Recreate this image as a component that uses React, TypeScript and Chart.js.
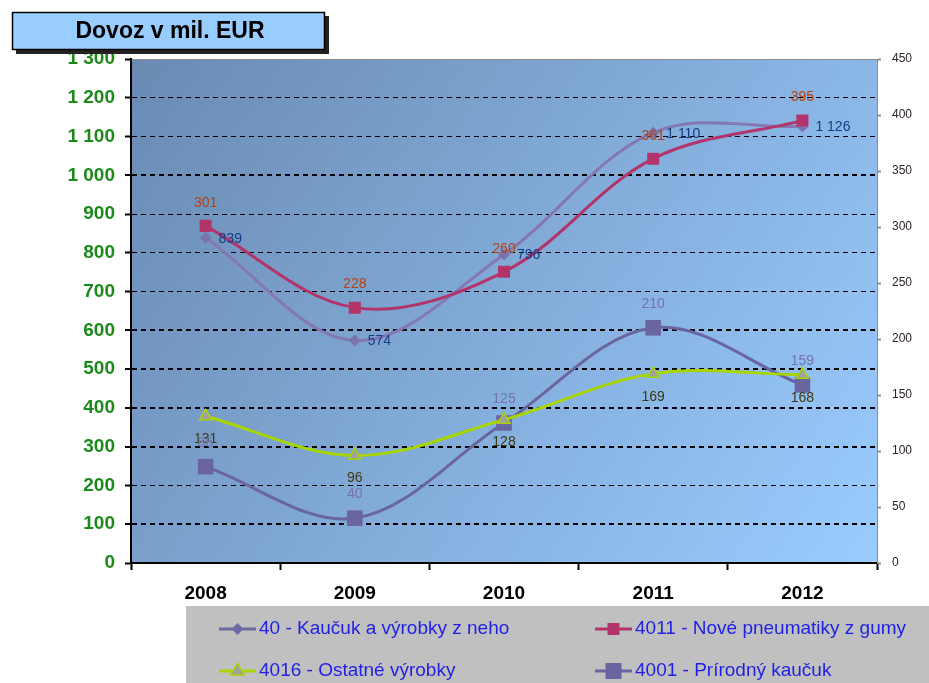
import React, { useEffect, useRef } from 'react';
import { Chart, registerables } from 'chart.js';

Chart.register(...registerables);

const years = ['2008', '2009', '2010', '2011', '2012'];
const s40 = [839, 574, 796, 1110, 1126];
const s4011 = [301, 228, 260, 361, 395];
const s4016 = [131, 96, 128, 169, 168];
const s4001 = [86, 40, 125, 210, 159];
const seriesNames = [
  '40 - Kaučuk a výrobky z neho',
  '4011 - Nové pneumatiky z gumy',
  '4016 - Ostatné výrobky',
  '4001 - Prírodný kaučuk',
];
const titleText = 'Dovoz v mil. EUR';
const leftMin = 0;
const leftMax = 1300;
const leftStep = 100;
const rightMin = 0;
const rightMax = 450;
const rightStep = 50;

const FONT = '"Liberation Sans", Arial, sans-serif';
const fmt = (v: number) => String(v).replace(/\B(?=(\d{3})+(?!\d))/g, ' ');

const thickGrid = [1000, 600, 500, 400, 300, 100];

const labelStyles = [
  { color: '#123d82', align: 'left', dx: 13, dy: 1 },
  { color: '#b5420f', align: 'center', dx: 0, dy: -23 },
  { color: '#3c3a12', align: 'center', dx: 0, dy: 23 },
  { color: '#7472ad', align: 'center', dx: 0, dy: -24 },
];

const C40 = '#8578b2';
const C40P = '#7a74ac';
const C4011 = '#b3346a';
const C4016 = '#a8d400';
const C4001 = '#6a64a0';

function drawMarker(ctx: CanvasRenderingContext2D, kind: string, x: number, y: number) {
  ctx.save();
  if (kind === 'diamond') {
    ctx.fillStyle = '#6c6aa2';
    ctx.beginPath();
    ctx.moveTo(x, y - 6);
    ctx.lineTo(x + 6, y);
    ctx.lineTo(x, y + 6);
    ctx.lineTo(x - 6, y);
    ctx.closePath();
    ctx.fill();
  } else if (kind === 'sq1') {
    ctx.fillStyle = C4011;
    ctx.fillRect(x - 6, y - 6, 12, 12);
  } else if (kind === 'tri') {
    ctx.fillStyle = '#a0a0a0';
    ctx.strokeStyle = C4016;
    ctx.lineWidth = 1.5;
    ctx.beginPath();
    ctx.moveTo(x, y - 8);
    ctx.lineTo(x + 6.5, y + 4);
    ctx.lineTo(x - 6.5, y + 4);
    ctx.closePath();
    ctx.fill();
    ctx.stroke();
  } else {
    ctx.fillStyle = C4001;
    ctx.fillRect(x - 8, y - 8, 16, 16);
  }
  ctx.restore();
}

const bgPlugin = {
  id: 'bgPlugin',
  beforeDraw(chart: any) {
    const { ctx, chartArea: a } = chart;
    ctx.save();
    ctx.fillStyle = '#ffffff';
    ctx.fillRect(0, 0, chart.width, chart.height);
    const g = ctx.createLinearGradient(a.left, a.top, a.right, a.bottom);
    g.addColorStop(0, '#6a8ab2');
    g.addColorStop(1, '#9accff');
    ctx.fillStyle = g;
    ctx.fillRect(a.left, a.top, a.right - a.left, a.bottom - a.top);
    ctx.restore();
  },
};

const labelPlugin = {
  id: 'labelPlugin',
  afterDatasetsDraw(chart: any) {
    const ctx = chart.ctx;
    chart.data.datasets.forEach((ds: any, i: number) => {
      const meta = chart.getDatasetMeta(i);
      const st = labelStyles[i];
      meta.data.forEach((pt: any, j: number) => {
        ctx.save();
        ctx.font = `14px ${FONT}`;
        ctx.fillStyle = st.color;
        ctx.textAlign = st.align;
        ctx.textBaseline = 'middle';
        ctx.fillText(fmt(ds.data[j]), pt.x + st.dx, pt.y + st.dy);
        ctx.restore();
      });
    });
  },
};

const decorPlugin = {
  id: 'decorPlugin',
  afterDraw(chart: any) {
    const ctx = chart.ctx as CanvasRenderingContext2D;
    ctx.save();
    // title box
    ctx.fillStyle = '#222';
    ctx.fillRect(16, 16, 313, 38);
    ctx.fillStyle = '#99ccff';
    ctx.fillRect(12, 12, 313, 38);
    ctx.strokeStyle = '#000';
    ctx.lineWidth = 1.5;
    ctx.strokeRect(12.5, 12.5, 312, 37);
    ctx.fillStyle = '#000';
    ctx.font = `bold 23px ${FONT}`;
    ctx.textAlign = 'center';
    ctx.textBaseline = 'middle';
    ctx.fillText(titleText, 170, 32);

    // legend box
    ctx.fillStyle = '#c0c0c0';
    ctx.fillRect(186, 606, 743, 77);
    const items = [
      { x: 219, y: 629, color: '#6c6aa2', kind: 'diamond' },
      { x: 595, y: 629, color: C4011, kind: 'sq1' },
      { x: 219, y: 671, color: C4016, kind: 'tri' },
      { x: 595, y: 671, color: C4001, kind: 'sq2' },
    ];
    items.forEach((it, i) => {
      ctx.strokeStyle = it.color;
      ctx.lineWidth = 3;
      ctx.beginPath();
      ctx.moveTo(it.x, it.y);
      ctx.lineTo(it.x + 37, it.y);
      ctx.stroke();
      drawMarker(ctx, it.kind, it.x + 18.5, it.y);
      ctx.fillStyle = '#1f1fe6';
      ctx.font = `19px ${FONT}`;
      ctx.textAlign = 'left';
      ctx.textBaseline = 'middle';
      ctx.fillText(seriesNames[i], it.x + 40, it.y);
    });
    ctx.restore();
  },
};

export default function App() {
  const ref = useRef<HTMLCanvasElement>(null);
  useEffect(() => {
    const chart = new Chart(ref.current as HTMLCanvasElement, {
      type: 'line',
      data: {
        labels: years,
        datasets: [
          {
            label: seriesNames[0],
            data: s40,
            yAxisID: 'y',
            borderColor: C40,
            backgroundColor: C40P,
            borderWidth: 3,
            pointStyle: 'rectRot',
            pointRadius: 6,
            pointBorderWidth: 0,
            pointBackgroundColor: C40P,
            tension: 0.35,
            order: 2,
          },
          {
            label: seriesNames[1],
            data: s4011,
            yAxisID: 'y1',
            borderColor: C4011,
            backgroundColor: C4011,
            borderWidth: 3,
            pointStyle: 'rect',
            pointRadius: 8.5,
            pointBorderWidth: 0,
            pointBackgroundColor: C4011,
            tension: 0.35,
            order: 1,
          },
          {
            label: seriesNames[2],
            data: s4016,
            yAxisID: 'y1',
            borderColor: C4016,
            backgroundColor: '#a0a0a0',
            borderWidth: 3,
            pointStyle: 'triangle',
            pointRadius: 7,
            pointBorderWidth: 1.5,
            pointBorderColor: C4016,
            pointBackgroundColor: '#a0a0a0',
            tension: 0.35,
            order: 3,
          },
          {
            label: seriesNames[3],
            data: s4001,
            yAxisID: 'y1',
            borderColor: C4001,
            backgroundColor: C4001,
            borderWidth: 3,
            pointStyle: 'rect',
            pointRadius: 11,
            pointBorderWidth: 0,
            pointBackgroundColor: C4001,
            tension: 0.35,
            order: 4,
          },
        ],
      },
      options: {
        responsive: false,
        animation: false,
        devicePixelRatio: 1,
        layout: { padding: { top: 59, left: 0, right: 0, bottom: 0 } },
        plugins: { legend: { display: false }, tooltip: { enabled: false } },
        scales: {
          x: {
            offset: true,
            grid: {
              offset: true,
              drawOnChartArea: false,
              drawTicks: true,
              tickLength: 7,
              tickColor: '#000',
              tickWidth: 2,
            },
            border: { display: true, color: '#000', width: 2 },
            ticks: {
              font: { family: FONT, size: 19, weight: 'bold' },
              color: '#000',
              padding: 12,
              maxRotation: 0,
            },
            afterFit: (s: any) => {
              s.height = 120;
            },
          },
          y: {
            position: 'left',
            min: leftMin,
            max: leftMax,
            ticks: {
              stepSize: leftStep,
              callback: (v: any) => fmt(Number(v)),
              font: { family: FONT, size: 19, weight: 'bold' },
              color: '#1b8a1b',
              padding: 10,
            },
            grid: {
              color: (c: any) => (c.tick && c.tick.value === leftMax ? '#8c8c8c' : '#000'),
              lineWidth: (c: any) => (c.tick && thickGrid.includes(c.tick.value) ? 2 : 1),
              drawTicks: true,
              tickLength: 6,
              tickColor: '#000',
              tickWidth: 2,
              tickBorderDash: [],
            },
            border: {
              display: true,
              color: '#000',
              width: 2,
              dash: (c: any) => (c.tick && c.tick.value === leftMax ? [] : [5, 4]),
            },
            afterFit: (s: any) => {
              s.width = 131;
            },
          },
          y1: {
            position: 'right',
            min: rightMin,
            max: rightMax,
            ticks: {
              stepSize: rightStep,
              font: { family: FONT, size: 12 },
              color: '#2e2028',
              padding: 11,
            },
            grid: {
              drawOnChartArea: false,
              drawTicks: true,
              tickLength: 4,
              tickColor: '#8c8c8c',
              tickWidth: 2,
            },
            border: { display: true, color: '#8c8c8c', width: 1 },
            afterFit: (s: any) => {
              s.width = 52;
            },
          },
        },
      } as any,
      plugins: [bgPlugin, labelPlugin, decorPlugin],
    });
    return () => chart.destroy();
  }, []);

  return (
    <div style={{ position: 'absolute', left: 0, top: 0, width: 929, height: 683, background: '#fff' }}>
      <canvas ref={ref} width={929} height={683} style={{ display: 'block', width: 929, height: 683 }} />
    </div>
  );
}
